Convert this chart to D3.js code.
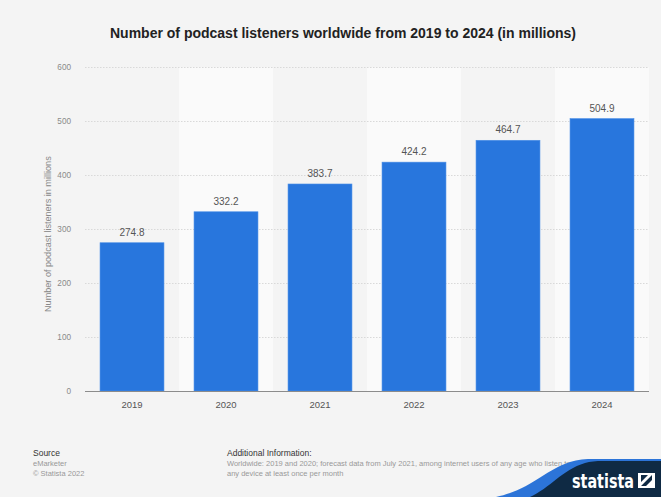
<!DOCTYPE html>
<html>
<head>
<meta charset="utf-8">
<script src="https://cdn.jsdelivr.net/npm/d3@7"></script>
<style>
  html, body { margin: 0; padding: 0; background: #f4f4f4; }
  svg { display: block; font-family: "Liberation Sans", Arial, Helvetica, sans-serif; }
</style>
</head>
<body>
<svg id="chart" width="661" height="497"></svg>
<script>
// Podcast listeners worldwide, in millions
const years = ["2019", "2020", "2021", "2022", "2023", "2024"];
const listeners = [274.8, 332.2, 383.7, 424.2, 464.7, 504.9];
const yTicks = [0, 100, 200, 300, 400, 500, 600];

const titleText = "Number of podcast listeners worldwide from 2019 to 2024 (in millions)";
const yAxisTitle = "Number of podcast listeners in millions";
const sourceLines = ["eMarketer", "© Statista 2022"];
const infoLines = [
  "Worldwide: 2019 and 2020; forecast data from July 2021, among internet users of any age who listen to podcasts via",
  "any device at least once per month"
];

const data = years.map((y, i) => ({ year: y, value: listeners[i] }));

const W = 661, H = 497;
const plot = { left: 85, right: 649, top: 67.3, bottom: 391 };

const svg = d3.select("#chart");

svg.append("rect").attr("width", W).attr("height", H).attr("fill", "#f4f4f4");

const band = d3.scaleBand()
  .domain(years)
  .range([plot.left, plot.right])
  .paddingInner(0)
  .paddingOuter(0);

const x = d3.scaleBand()
  .domain(years)
  .range([plot.left, plot.right])
  .paddingInner(0.32)
  .paddingOuter(0.16);

const y = d3.scaleLinear()
  .domain([0, 600])
  .range([plot.bottom, plot.top]);

// alternating column shading
svg.append("g")
  .selectAll("rect")
  .data(years.filter((d, i) => i % 2 === 1))
  .join("rect")
  .attr("x", d => band(d))
  .attr("y", plot.top)
  .attr("width", band.bandwidth())
  .attr("height", plot.bottom - plot.top)
  .attr("fill", "#fafafa");

// horizontal grid
svg.append("g")
  .selectAll("line")
  .data(yTicks.filter(t => t > 0))
  .join("line")
  .attr("x1", plot.left)
  .attr("x2", plot.right)
  .attr("y1", d => Math.round(y(d)) + 0.5)
  .attr("y2", d => Math.round(y(d)) + 0.5)
  .attr("stroke", "#d9d9d9")
  .attr("stroke-width", 1)
  .attr("stroke-dasharray", "1.5,1.5");

// y axis tick labels
const yAxis = d3.axisLeft(y).tickValues(yTicks).tickSize(0).tickPadding(14);
const yg = svg.append("g")
  .attr("transform", `translate(${plot.left},0)`)
  .call(yAxis);
yg.select(".domain").remove();
yg.selectAll("text")
  .attr("fill", "#8a8a8a")
  .attr("font-size", 8.2)
  .attr("font-family", "Liberation Sans, Arial, sans-serif");

// bars
svg.append("g")
  .selectAll("rect")
  .data(data)
  .join("rect")
  .attr("x", d => x(d.year))
  .attr("y", d => y(d.value))
  .attr("width", x.bandwidth())
  .attr("height", d => y(0) - y(d.value))
  .attr("fill", "#2876dd")
  .attr("stroke", "#4b8fe6")
  .attr("stroke-width", 0.6);

// value labels
svg.append("g")
  .selectAll("text")
  .data(data)
  .join("text")
  .attr("x", d => x(d.year) + x.bandwidth() / 2)
  .attr("y", d => y(d.value) - 7)
  .attr("text-anchor", "middle")
  .attr("font-size", 10)
  .attr("fill", "#555")
  .text(d => d.value.toFixed(1));

// baseline
svg.append("line")
  .attr("x1", plot.left)
  .attr("x2", plot.right)
  .attr("y1", y(0) + 0.5)
  .attr("y2", y(0) + 0.5)
  .attr("stroke", "#8c8c8c")
  .attr("stroke-width", 1);

// x axis labels
const xAxis = d3.axisBottom(band).tickSize(0).tickPadding(10);
const xg = svg.append("g")
  .attr("transform", `translate(0,${plot.bottom})`)
  .call(xAxis);
xg.select(".domain").remove();
xg.selectAll("text")
  .attr("fill", "#555")
  .attr("font-size", 9.5)
  .attr("font-family", "Liberation Sans, Arial, sans-serif");

// y axis title
svg.append("text")
  .attr("transform", `translate(50.5,${(plot.top + plot.bottom) / 2 + 5}) rotate(-90)`)
  .attr("text-anchor", "middle")
  .attr("font-size", 9.1)
  .attr("fill", "#888")
  .text(yAxisTitle);

// chart title
svg.append("text")
  .attr("x", 343)
  .attr("y", 38)
  .attr("text-anchor", "middle")
  .attr("font-size", 14)
  .attr("font-weight", "bold")
  .attr("fill", "#222")
  .text(titleText);

// footer: source
svg.append("text")
  .attr("x", 33).attr("y", 456)
  .attr("font-size", 8.5).attr("fill", "#333")
  .text("Source");
svg.append("g")
  .selectAll("text")
  .data(sourceLines)
  .join("text")
  .attr("x", 33)
  .attr("y", (d, i) => 466 + i * 10)
  .attr("font-size", 7.5)
  .attr("fill", "#999")
  .text(d => d);

// footer: additional information
svg.append("text")
  .attr("x", 227).attr("y", 456)
  .attr("font-size", 8.5).attr("fill", "#333")
  .text("Additional Information:");
svg.append("g")
  .selectAll("text")
  .data(infoLines)
  .join("text")
  .attr("x", 227)
  .attr("y", (d, i) => 466 + i * 10)
  .attr("font-size", 7.5)
  .attr("fill", "#999")
  .text(d => d);

// brand corner
const logo = svg.append("g");
logo.append("path")
  .attr("d", "M496,497 C530,490 545,470 570,462 C578,459.5 585,459 595,459 L661,459 L661,497 Z")
  .attr("fill", "#2c74d8");
logo.append("path")
  .attr("d", "M530,497 C550,488 562,470 585,463 C590,461.5 596,461 603,461 L661,461 L661,497 Z")
  .attr("fill", "#0f2a44");
logo.append("text")
  .attr("x", 572)
  .attr("y", 488)
  .attr("font-size", 19)
  .attr("font-weight", "bold")
  .attr("font-family", "DejaVu Sans Condensed, Liberation Sans Narrow, Arial Narrow, sans-serif")
  .attr("fill", "#ffffff")
  .attr("textLength", 62)
  .attr("lengthAdjust", "spacingAndGlyphs")
  .text("statista");
logo.append("rect")
  .attr("x", 638).attr("y", 473).attr("width", 17).attr("height", 15)
  .attr("fill", "#ffffff");
logo.append("path")
  .attr("d", "M641,486 L652,475 L652,480 L646,486 Z M641,475 L648,475 L641,482 Z")
  .attr("fill", "#0f2a44");
</script>
</body>
</html>
